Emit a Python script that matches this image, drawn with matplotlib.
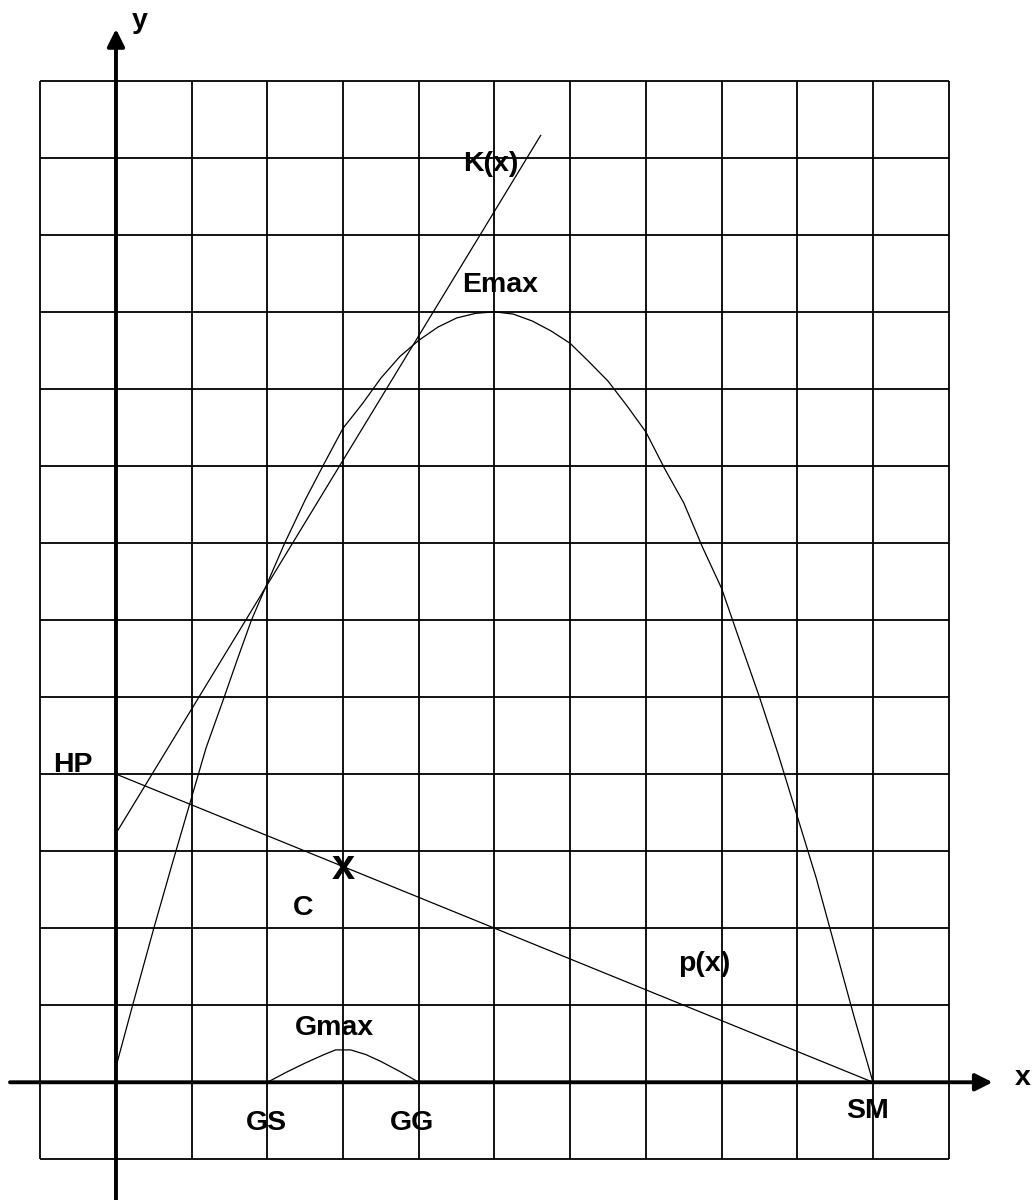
import matplotlib
matplotlib.use("Agg")
import matplotlib.pyplot as plt

plt.rcParams['font.family'] = ['Liberation Sans', 'DejaVu Sans']

# grid lines (data units)
grid_x = list(range(-1, 12))
grid_y = list(range(-1, 14))

# revenue curve E(x)
e_x = [0, 0.22, 0.5, 0.75, 1.0, 1.19, 1.43, 1.6, 1.79, 2.0, 2.23, 2.5, 2.75, 3.0,
       3.25, 3.5, 3.75, 4.0, 4.25, 4.5, 4.75, 5.0, 5.25, 5.5, 5.75, 6.0, 6.25,
       6.5, 6.75, 7.0, 7.25, 7.5, 7.75, 8.0, 8.25, 8.5, 8.75, 9.0, 9.25, 9.5,
       9.75, 10.0]
e_y = [0.2, 1.0, 2.0, 2.86, 3.7, 4.34, 5.0, 5.48, 6.0, 6.48, 7.0, 7.56, 8.03, 8.49,
       8.8, 9.14, 9.42, 9.63, 9.8, 9.92, 9.98, 10.0, 9.97, 9.88, 9.75, 9.59, 9.35,
       9.1, 8.78, 8.44, 7.96, 7.52, 6.94, 6.41, 5.7, 5.0, 4.25, 3.45, 2.65, 1.75,
       0.85, 0.0]

# cost line K(x)
k_x = [0, 5.61]
k_y = [3.23, 12.29]

# price line p(x)
p_x = [0, 10]
p_y = [4, 0]

# profit curve G(x)
g_x = [2.0, 2.25, 2.5, 2.75, 2.9, 3.1, 3.3, 3.5, 3.75, 4.0]
g_y = [0.0, 0.13, 0.25, 0.36, 0.42, 0.42, 0.36, 0.27, 0.14, 0.0]

# labels: text, x, y (baseline)
labels = [
    ("K(x)", 4.95, 11.83),
    ("Emax", 5.08, 10.26),
    ("HP", -0.575, 4.03),
    ("C", 2.477, 2.17),
    ("p(x)", 7.77, 1.45),
    ("Gmax", 2.88, 0.614),
    ("GS", 1.985, -0.62),
    ("GG", 3.906, -0.62),
    ("SM", 9.927, -0.467),
    ("x", 11.977, -0.035),
    ("y", 0.317, 13.68),
]

fig = plt.figure(figsize=(10.36, 12), dpi=100)
ax = fig.add_axes([0, 0, 1, 1])
ax.set_xlim(-1.532, 12.153)
ax.set_ylim(-1.528, 14.047)
ax.axis('off')

ax.vlines(grid_x, min(grid_y), max(grid_y), colors='k', lw=1.3, zorder=1)
ax.hlines(grid_y, min(grid_x), max(grid_x), colors='k', lw=1.3, zorder=1)

# axes with arrows
arrow = dict(arrowstyle='-|>,head_length=0.4,head_width=0.2', lw=2.8, color='k',
             mutation_scale=26, shrinkA=0, shrinkB=0)
ax.annotate('', xy=(11.58, 0), xytext=(-1.4, 0), arrowprops=arrow, zorder=3)
ax.annotate('', xy=(0, 13.67), xytext=(0, -1.6), arrowprops=arrow, zorder=3)

ax.plot(e_x, e_y, color='k', lw=0.9, zorder=2)
ax.plot(k_x, k_y, color='k', lw=0.9, zorder=2)
ax.plot(p_x, p_y, color='k', lw=0.9, zorder=2)
ax.plot(g_x, g_y, color='k', lw=0.9, zorder=2)

for txt, x, y in labels:
    ax.text(x, y, txt, fontsize=20.5, fontweight='bold', ha='center', va='baseline', zorder=4)

# point C on the price line
ax.text(3.0, 2.64, "x", fontsize=30, fontweight='bold', ha='center', va='baseline', zorder=4)

fig.savefig("out.png", dpi=100)
